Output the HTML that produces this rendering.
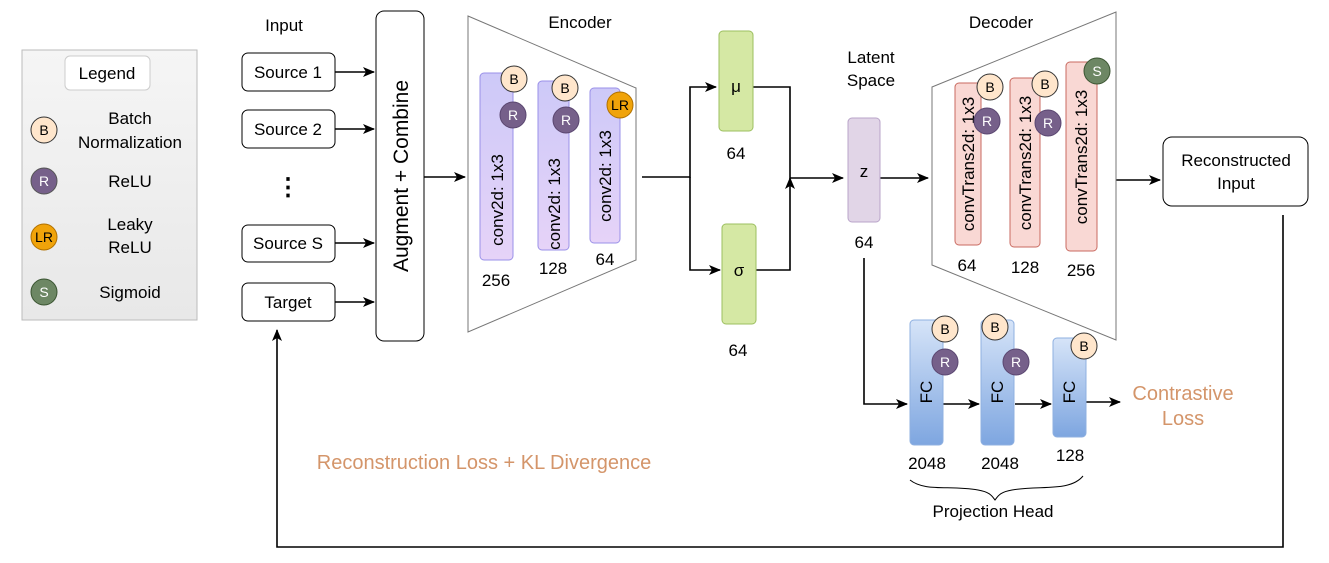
<!DOCTYPE html>
<html><head><style>body{margin:0;background:#fff}svg{display:block;font-family:"Liberation Sans",sans-serif}</style></head><body>
<svg width="1329" height="563" viewBox="0 0 1329 563" xmlns="http://www.w3.org/2000/svg">
<defs>
<marker id="a" markerWidth="12" markerHeight="10" refX="11" refY="5" orient="auto" markerUnits="userSpaceOnUse"><path d="M0,0 L12,5 L0,10 L3,5Z" fill="#000"/></marker>
<linearGradient id="enc" x1="0" y1="0" x2="0" y2="1"><stop offset="0" stop-color="#cdc9f8"/><stop offset="1" stop-color="#e6d3f8"/></linearGradient>
<linearGradient id="fc" x1="0" y1="0" x2="0" y2="1"><stop offset="0" stop-color="#d6e4f8"/><stop offset="1" stop-color="#7ea6e0"/></linearGradient>
<linearGradient id="lg" x1="0" y1="0" x2="0" y2="1"><stop offset="0" stop-color="#f5f5f5"/><stop offset="1" stop-color="#e8e8e8"/></linearGradient>
</defs>
<g font-size="17" text-anchor="middle" fill="#000">
<rect x="22" y="50" width="175" height="270" fill="url(#lg)" stroke="#bbb"/>
<rect x="65" y="56" width="85" height="34" rx="5" fill="#fff" stroke="#ccc"/>
<text x="107" y="79">Legend</text>
<circle cx="44" cy="130" r="13" fill="#ffe6cc" stroke="#333"/><text x="44" y="135" font-size="14">B</text>
<text x="130" y="124">Batch</text><text x="130" y="148">Normalization</text>
<circle cx="44" cy="181" r="13" fill="#76608a" stroke="#555"/><text x="44" y="186" font-size="14" fill="#fff">R</text>
<text x="130" y="187">ReLU</text>
<circle cx="44" cy="237" r="13" fill="#f0a30a" stroke="#b07000"/><text x="44" y="242" font-size="14">LR</text>
<text x="130" y="230">Leaky</text><text x="130" y="253">ReLU</text>
<circle cx="44" cy="292" r="13" fill="#6d8764" stroke="#3a5431"/><text x="44" y="297" font-size="14" fill="#fff">S</text>
<text x="130" y="298">Sigmoid</text>
<text x="284" y="31">Input</text>
<g fill="#fff" stroke="#000">
<rect x="242" y="53" width="93" height="38" rx="6"/><rect x="242" y="110" width="93" height="38" rx="6"/>
<rect x="242" y="225" width="93" height="37" rx="6"/><rect x="242" y="283" width="93" height="38" rx="6"/>
<rect x="376" y="11" width="48" height="330" rx="8"/>
</g>
<text x="288" y="78">Source 1</text><text x="288" y="135">Source 2</text>
<text x="288" y="249">Source S</text><text x="288" y="308">Target</text>
<text x="288" y="195" font-size="24" font-weight="bold">⋮</text>
<text transform="translate(408,176) rotate(-90)" font-size="21">Augment + Combine</text>
<g stroke="#000" stroke-width="1.6" fill="none" marker-end="url(#a)">
<line x1="335" y1="72" x2="374" y2="72"/><line x1="335" y1="129" x2="374" y2="129"/>
<line x1="335" y1="243" x2="374" y2="243"/><line x1="335" y1="302" x2="374" y2="302"/>
<line x1="424" y1="177" x2="465" y2="177"/>
<polyline points="642,177 690,177 690,87 716,87"/><polyline points="690,177 690,270 720,270"/>
<polyline points="753,87 790,87 790,178 843,178"/><polyline points="756,270 790,270 790,178"/>
<line x1="880" y1="178" x2="928" y2="178"/>
<line x1="1116" y1="180" x2="1160" y2="180"/>
<polyline points="1283,215 1283,547 277,547 277,330"/>
<polyline points="864,258 864,404 907,404"/>
<line x1="943" y1="404" x2="979" y2="404"/><line x1="1015" y1="404" x2="1051" y2="404"/><line x1="1086" y1="402" x2="1120" y2="402"/>
</g>
<polygon points="468,16 636,88 636,260 468,332" fill="#fff" stroke="#777"/>
<text x="580" y="28">Encoder</text>
<g fill="url(#enc)" stroke="#9a90e8">
<rect x="480" y="73" width="33" height="187" rx="4"/><rect x="538" y="81" width="31" height="169" rx="4"/><rect x="590" y="88" width="30" height="155" rx="4"/>
</g>
<text transform="translate(503,200) rotate(-90)">conv2d: 1x3</text>
<text transform="translate(560,204) rotate(-90)">conv2d: 1x3</text>
<text transform="translate(611,176) rotate(-90)">conv2d: 1x3</text>
<text x="496" y="286">256</text><text x="553" y="274">128</text><text x="605" y="265">64</text>
<rect x="719" y="31" width="34" height="100" rx="4" fill="#d5e8a4" stroke="#9cbf5f"/>
<rect x="722" y="224" width="34" height="100" rx="4" fill="#d5e8a4" stroke="#9cbf5f"/>
<text x="736" y="92">μ</text><text x="739" y="276">σ</text>
<text x="736" y="159">64</text><text x="738" y="356">64</text>
<text x="871" y="63">Latent</text><text x="871" y="86">Space</text>
<rect x="848" y="118" width="32" height="104" rx="4" fill="#e1d5e7" stroke="#b9a4c9"/>
<text x="864" y="177">z</text><text x="864" y="248">64</text>
<polygon points="932,87 1116,12 1116,340 932,265" fill="#fff" stroke="#777"/>
<text x="1001" y="28">Decoder</text>
<g fill="#f9d8d4" stroke="#c96a60">
<rect x="955" y="83" width="26" height="162" rx="4"/><rect x="1010" y="78" width="30" height="169" rx="4"/><rect x="1066" y="62" width="31" height="189" rx="4"/>
</g>
<text transform="translate(974,164) rotate(-90)">convTrans2d: 1x3</text>
<text transform="translate(1031,163) rotate(-90)">convTrans2d: 1x3</text>
<text transform="translate(1087,157) rotate(-90)">convTrans2d: 1x3</text>
<text x="967" y="271">64</text><text x="1025" y="273">128</text><text x="1081" y="276">256</text>
<rect x="1163" y="137" width="145" height="69" rx="9" fill="#fff" stroke="#000"/>
<text x="1236" y="166">Reconstructed</text><text x="1236" y="189">Input</text>
<g fill="url(#fc)" stroke="#8fb0e0">
<rect x="910" y="320" width="33" height="125" rx="4"/><rect x="981" y="320" width="33" height="125" rx="4"/><rect x="1053" y="338" width="33" height="99" rx="4"/>
</g>
<text transform="translate(932,392) rotate(-90)">FC</text>
<text transform="translate(1003,392) rotate(-90)">FC</text>
<text transform="translate(1075,392) rotate(-90)">FC</text>
<text x="927" y="469">2048</text><text x="1000" y="469">2048</text><text x="1070" y="461">128</text>
<path d="M910,480 C925,492 950,485 978,490 C990,492 992,496 995,500 C998,496 1000,492 1012,490 C1040,485 1070,492 1083,476" fill="none" stroke="#000"/>
<text x="993" y="517">Projection Head</text>
<g font-size="20" fill="#d4956a"><text x="1183" y="400">Contrastive</text><text x="1183" y="425">Loss</text>
<text x="484" y="469">Reconstruction Loss + KL Divergence</text></g>
<g font-size="14">
<g fill="#ffe6cc" stroke="#333"><circle cx="514" cy="79" r="13"/><circle cx="565" cy="88" r="13"/><circle cx="990" cy="87" r="13"/><circle cx="1045" cy="84" r="13"/><circle cx="945" cy="329" r="13"/><circle cx="995" cy="327" r="13"/><circle cx="1084" cy="346" r="13"/></g>
<text x="514" y="84">B</text><text x="565" y="93">B</text><text x="990" y="92">B</text><text x="1045" y="89">B</text><text x="945" y="334">B</text><text x="995" y="332">B</text><text x="1084" y="351">B</text>
<g fill="#76608a" stroke="#5a4670"><circle cx="513" cy="115" r="13"/><circle cx="566" cy="120" r="13"/><circle cx="987" cy="121" r="13"/><circle cx="1048" cy="123" r="13"/><circle cx="945" cy="362" r="13"/><circle cx="1016" cy="362" r="13"/></g>
<g fill="#fff"><text x="513" y="120">R</text><text x="566" y="125">R</text><text x="987" y="126">R</text><text x="1048" y="128">R</text><text x="945" y="367">R</text><text x="1016" y="367">R</text></g>
<circle cx="620" cy="105" r="13" fill="#f0a30a" stroke="#b07000"/><text x="620" y="110">LR</text>
<circle cx="1097" cy="71" r="13" fill="#6d8764" stroke="#3a5431"/><text x="1097" y="76" fill="#fff">S</text>
</g>
</g>
</svg>
</body></html>
